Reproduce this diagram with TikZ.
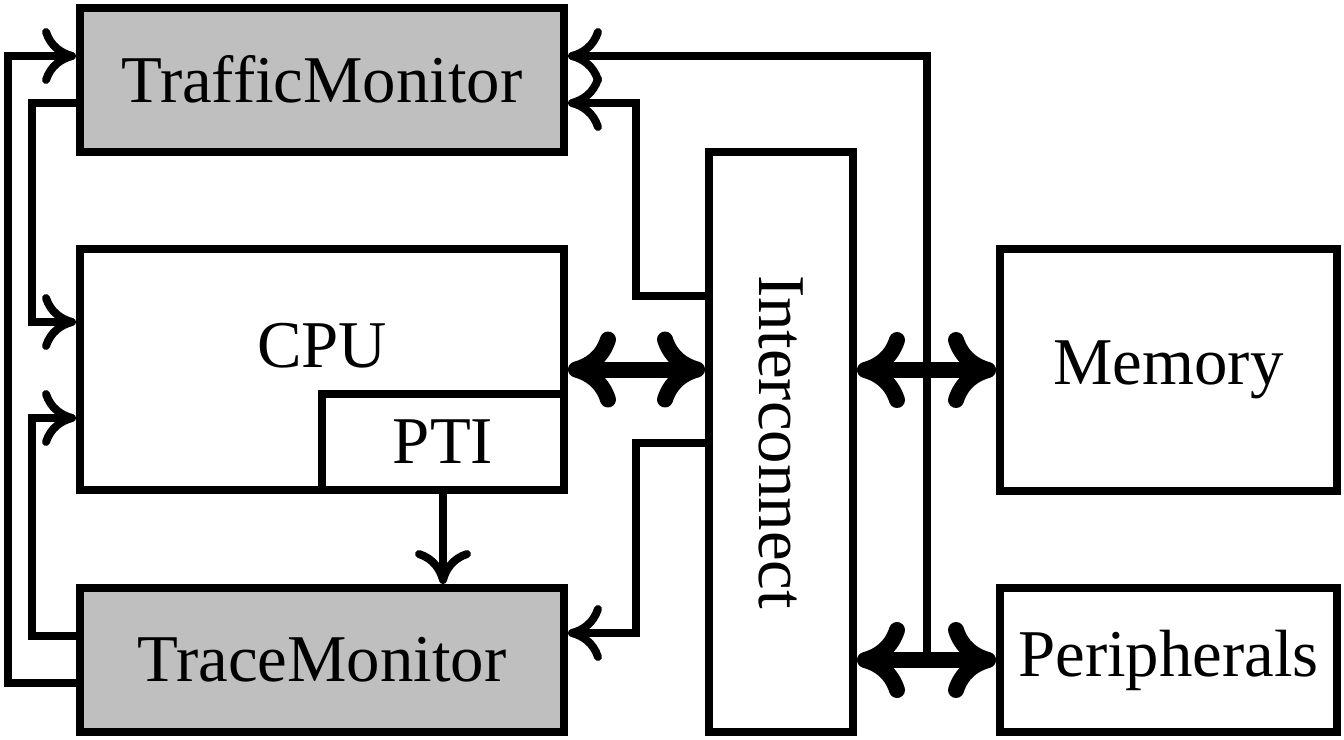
\documentclass[tikz,border=0pt]{standalone}
\usepackage{fontspec}
\setmainfont{Liberation Serif}
\usetikzlibrary{arrows.meta}
\begin{document}
\begin{tikzpicture}[x=0.5pt,y=-0.5pt, line width=4pt,
  box/.style={draw, line width=4pt, inner sep=0pt, font=\fontsize{33.4}{40}\selectfont},
  mon/.style={box, fill=black!25},
  lbl/.style={inner sep=0pt, font=\fontsize{33.4}{40}\selectfont},
  thinarr/.style={line width=4pt, -{Computer Modern Rightarrow[length=17pt,width=28pt]}},
  busarr/.style={line width=8pt, {Computer Modern Rightarrow[length=24pt,width=38pt]}-{Computer Modern Rightarrow[length=24pt,width=38pt]}},
]
\useasboundingbox (0,0) rectangle (1344,739);

% boxes
\node[mon, minimum width=242pt, minimum height=72.25pt] (tm) at (322,79.75) {TrafficMonitor};
\node[box, minimum width=242pt, minimum height=120.5pt] (cpu) at (322,369.5) {};
\node[box, fill=white, minimum width=121pt, minimum height=48pt] (pti) at (443,442) {PTI};
\node[lbl] (cpulabel) at (322,346) {CPU};
\node[mon, minimum width=242pt, minimum height=72pt] (trm) at (322,660) {TraceMonitor};
\node[box, rotate=-90, minimum width=290pt, minimum height=72pt] (ic) at (781,442) {Interconnect};
\node[box, minimum width=168.5pt, minimum height=121pt] (mem) at (1168.5,370) {Memory};
\node[box, minimum width=168.5pt, minimum height=72pt] (per) at (1168.5,660) {Peripherals};

% thin connectors
\draw[thinarr] (trm.west |- 0,683) -- (7.5,683) |- (tm.west |- 0,56);
\draw[thinarr] (tm.west |- 0,103) -- (32,103) |- (cpu.west |- 0,322);
\draw[thinarr] (trm.west |- 0,636) -- (32,636) |- (cpu.west |- 0,418);
\coordinate (tap) at (927,656);
\draw[thinarr] (tap) |- (tm.east |- 0,56);
\draw[thinarr] (ic.south |- 0,296) -- (636,296) |- (tm.east |- 0,103);
\draw[thinarr] (ic.south |- 0,443) -- (636,443) |- (trm.east |- 0,633);
\draw[thinarr] (pti.south) -- (pti.south |- trm.north);

% buses
\draw[busarr] (cpu.east) -- (ic.south |- cpu.east);
\draw[busarr] (ic.north |- mem.west) -- (mem.west);
\draw[busarr] (ic.north |- per.west) -- (per.west);
\end{tikzpicture}
\end{document}
